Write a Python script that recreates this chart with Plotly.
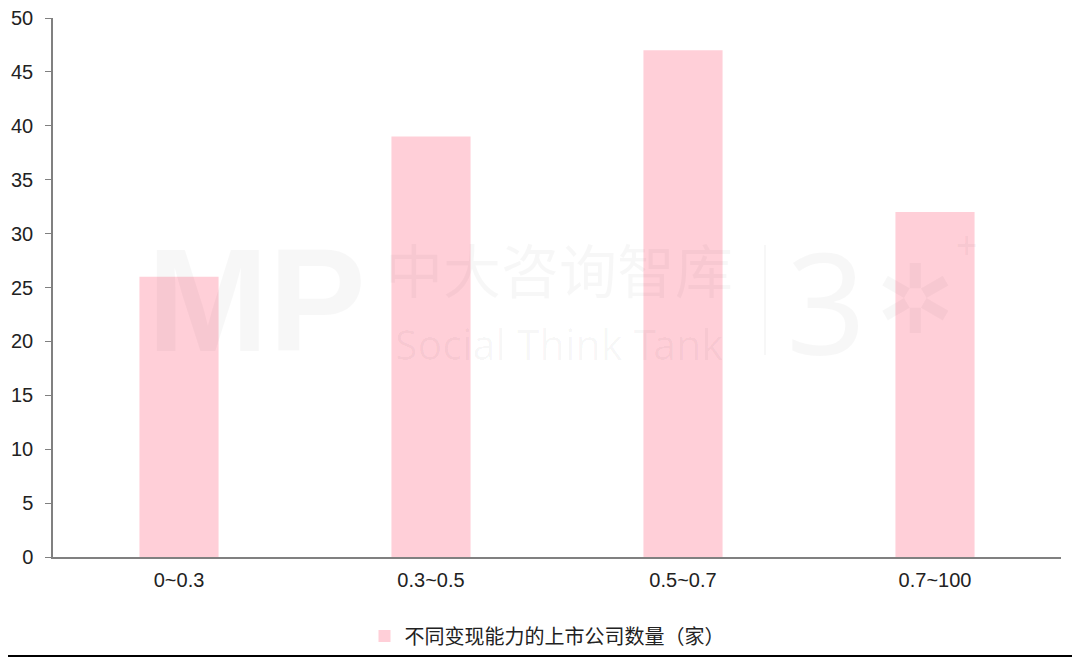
import plotly.graph_objects as go

categories = ["0~0.3", "0.3~0.5", "0.5~0.7", "0.7~100"]
counts = [26, 39, 47, 32]
series_name = "不同变现能力的上市公司数量（家）"
y_ticks = list(range(0, 51, 5))

# page has an 8px body margin; compensate so the plot lands where the reference has it
BODY = 8
W, H = 1080 - BODY, 658 - BODY
ml, mr, mt, mb = 53 - BODY, 19, 18 - BODY, 101
PW, PH = 1008, 539          # plot area in pixels
X0, Y0 = 53, 557            # plot origin in page pixels


def px(x):
    return (x - X0) / PW


def py(y):
    return (Y0 - y) / PH


fig = go.Figure()
fig.add_trace(go.Bar(
    x=categories, y=counts, name=series_name,
    marker=dict(color="#FFCFD8", line=dict(width=0)),
    width=0.314, showlegend=True,
))

# decorative watermark
wm = "rgba(0,0,0,0.03)"
fig.add_annotation(x=px(256), y=py(300), xref="paper", yref="paper", text="<b>MP</b>",
                   showarrow=False, font=dict(family="Liberation Sans", size=146, color=wm),
                   xanchor="center", yanchor="middle")
fig.add_annotation(x=px(559), y=py(312), xref="paper", yref="paper", text="中大咨询智库",
                   showarrow=False, font=dict(family="Noto Sans CJK SC", size=58, color=wm),
                   xanchor="center", yanchor="bottom")
fig.add_annotation(x=px(559), y=py(314), xref="paper", yref="paper", text="Social Think Tank",
                   showarrow=False, font=dict(family="Noto Sans", size=41, color=wm),
                   xanchor="center", yanchor="top")
fig.add_shape(type="line", xref="paper", yref="paper", x0=px(765), x1=px(765),
              y0=py(245), y1=py(355), line=dict(color=wm, width=2))
fig.add_annotation(x=px(826), y=py(300), xref="paper", yref="paper", text="3",
                   showarrow=False, font=dict(family="Noto Sans", size=140, color=wm),
                   xanchor="center", yanchor="middle")
fig.add_annotation(x=px(915), y=py(300), xref="paper", yref="paper", text="✲",
                   showarrow=False, font=dict(family="DejaVu Sans", size=96, color=wm),
                   xanchor="center", yanchor="middle")
fig.add_annotation(x=px(966), y=py(244), xref="paper", yref="paper", text="<b>+</b>",
                   showarrow=False, font=dict(family="DejaVu Sans", size=30, color=wm),
                   xanchor="center", yanchor="middle")

# bottom rule
fig.add_shape(type="line", xref="paper", yref="paper", x0=px(0), x1=px(1080),
              y0=py(656), y1=py(656), line=dict(color="black", width=2))

fig.update_layout(
    width=W, height=H,
    margin=dict(l=ml, r=mr, t=mt, b=mb, autoexpand=False),
    paper_bgcolor="white", plot_bgcolor="white",
    font=dict(family="Liberation Sans, Arial", size=20, color="#222222"),
    xaxis=dict(showline=True, linecolor="#808080", linewidth=1.5, ticks="",
               showgrid=False, tickfont=dict(size=20), fixedrange=True,
               ticklabelstandoff=4),
    yaxis=dict(range=[0, 50], tickvals=y_ticks, showline=True, linecolor="#808080",
               linewidth=1.5, ticks="outside", ticklen=6, tickcolor="#808080",
               showgrid=False, zeroline=False, tickfont=dict(size=20), ticklabelstandoff=8,
               ticklabeloverflow="allow"),
    legend=dict(orientation="h", x=px(547), xanchor="center", y=py(636), yanchor="middle",
                font=dict(family="Noto Sans CJK SC", size=20, color="#222222"),
                bgcolor="rgba(0,0,0,0)", itemwidth=30),
    showlegend=True,
)

fig.write_html("out.html")
